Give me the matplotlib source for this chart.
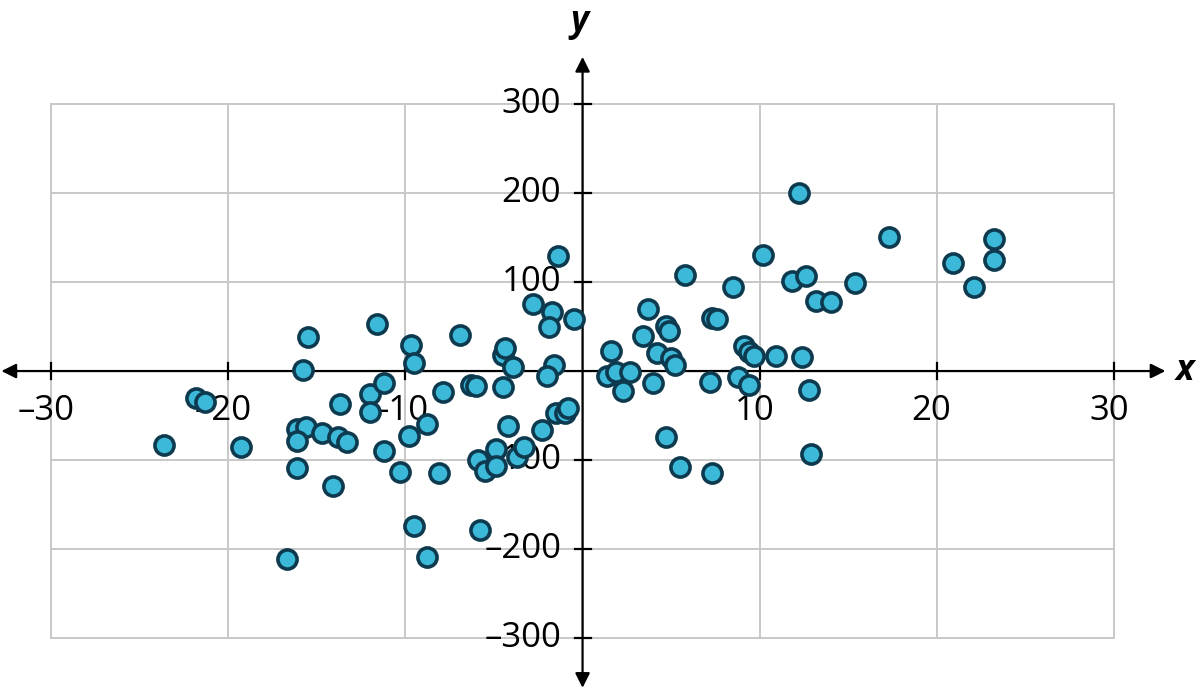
import matplotlib.pyplot as plt

plt.rcParams['font.family'] = ['Open Sans', 'DejaVu Sans']

# scatter data
x_vals = [-23.6, -21.8, -21.3, -19.3, -15.5, -15.8, -16.1, -15.6, -16.1, -14.7,
          -16.1, -13.7, -13.8, -13.3, -14.1, -16.7, -11.6, -9.7, -9.5, -6.9,
          -12.0, -11.2, -12.0, -7.9, -6.3, -6.0, -4.5, -4.5, -4.4, -3.9,
          -2.8, -1.7, -1.9, -0.5, -1.6, -2.0, -8.8, -9.8, -11.2, -10.3,
          -8.1, -4.2, -2.3, -1.5, -1.0, -0.8, -5.9, -5.5, -4.9, -4.9,
          -3.7, -3.3, -9.5, -8.8, -5.8, -1.4, 5.8, 10.2, 8.5, 11.8,
          12.6, 13.2, 14.0, 3.7, 4.7, 4.9, 3.4, 1.6, 4.2, 5.0,
          5.2, 7.3, 7.6, 9.1, 9.4, 9.7, 10.9, 12.4, 1.4, 1.9,
          2.7, 2.3, 4.0, 7.2, 8.8, 9.4, 12.8, 4.7, 5.5, 7.3,
          12.9, 12.2, 17.3, 20.9, 22.1, 23.2, 23.2, 15.4]
y_vals = [-83, -30, -35, -85, 38, 1, -65, -63, -79, -70,
          -109, -37, -74, -80, -129, -211, 53, 29, 9, 41,
          -26, -14, -46, -24, -16, -17, -18, 18, 26, 4,
          75, 66, 49, 59, 7, -6, -60, -73, -90, -113,
          -115, -62, -66, -47, -47, -42, -100, -112, -88, -107,
          -97, -85, -174, -209, -179, 129, 108, 130, 94, 101,
          107, 79, 78, 70, 51, 45, 39, 22, 20, 15,
          7, 60, 58, 28, 21, 17, 17, 16, -6, -1,
          -1, -22, -13, -12, -7, -16, -21, -74, -108, -115,
          -93, 200, 151, 121, 94, 148, 125, 99]

x_ticks = [-30, -20, -10, 10, 20, 30]
y_ticks = [-300, -200, -100, 100, 200, 300]

fig = plt.figure(figsize=(11.97, 6.90), dpi=100)
ax = fig.add_axes([0, 0, 1, 1])
ax.set_xlim(-32.88, 34.68)
ax.set_ylim(-358.4, 416.9)
ax.axis('off')

grid_c = '#c8c8c8'
for gx in range(-30, 31, 10):
    ax.plot([gx, gx], [-300, 300], color=grid_c, lw=1.4, zorder=1)
for gy in range(-300, 301, 100):
    ax.plot([-30, 30], [gy, gy], color=grid_c, lw=1.4, zorder=1)

# axes with arrowheads
arrow = dict(arrowstyle='<|-|>', color='black', lw=1.6, mutation_scale=22, shrinkA=0, shrinkB=0)
ax.annotate('', xy=(32.9, 0), xytext=(-32.8, 0), arrowprops=arrow, zorder=2)
ax.annotate('', xy=(0, 353), xytext=(0, -356), arrowprops=arrow, zorder=2)

for t in x_ticks:
    ax.plot([t, t], [-9, 9], color='black', lw=1.6, zorder=2)
    ax.text(t - 0.3, -45, f'{t}'.replace('-', '\u2013'), ha='center', va='center', fontsize=25, zorder=2)
for t in y_ticks:
    ax.plot([-0.45, 0.45], [t, t], color='black', lw=1.6, zorder=2)
    ax.text(-1.2, t, f'{t}'.replace('-', '\u2013'), ha='right', va='center', fontsize=25, zorder=2)

ax.text(34.0, 0, 'x', fontsize=25, fontweight='bold', fontstyle='italic', ha='center', va='center')
ax.text(-0.2, 392, 'y', fontsize=25, fontweight='bold', fontstyle='italic', ha='center', va='center')

ax.scatter(x_vals, y_vals, s=190, color='#3cb9d9', edgecolors='#0e3a4f', linewidths=2.6, zorder=5)

plt.savefig('out.png', dpi=100)
